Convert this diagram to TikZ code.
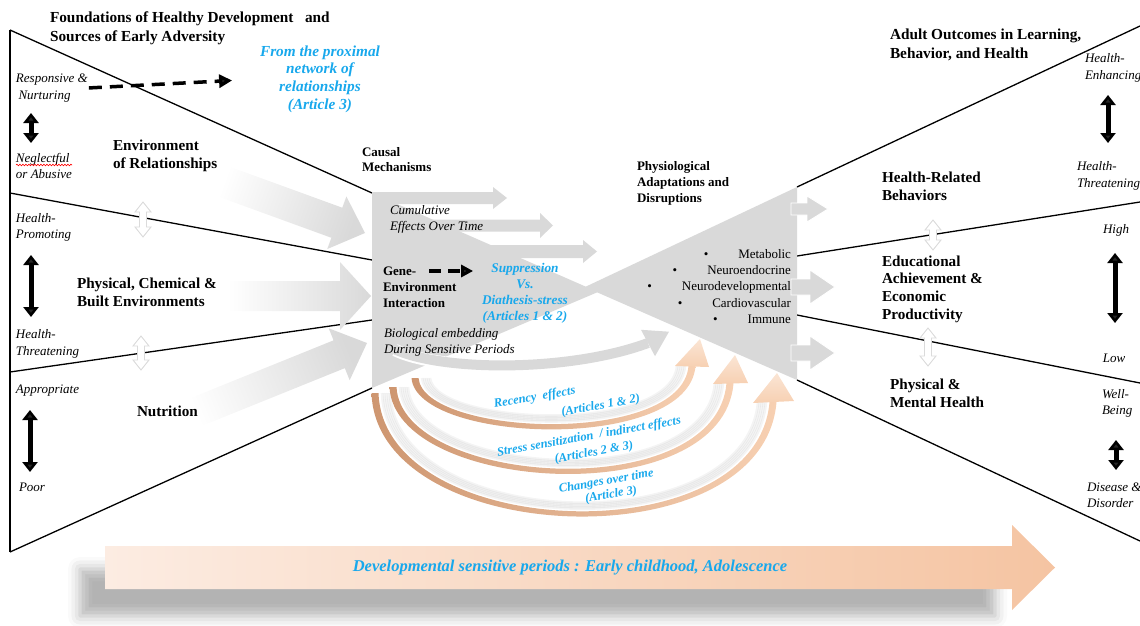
\documentclass[tikz,border=0pt]{standalone}
\usepackage{fontspec}
\setmainfont{Liberation Serif}
\usetikzlibrary{arrows.meta,shadows.blur,decorations.pathmorphing}
\definecolor{cyanx}{RGB}{24,168,236}
\definecolor{boxgray}{RGB}{217,217,217}
\definecolor{peachL}{RGB}{252,236,226}
\definecolor{peachR}{RGB}{245,196,162}
\definecolor{tanD}{RGB}{206,150,112}
\definecolor{tanL}{RGB}{247,208,178}

% orange ribbon along a cubic curve: start, control 1, control 2, end
\newcommand\orarc[8]{%
  \foreach \dd in {7,9,11,13,15}{%
    \draw[line width=2.6pt, draw=black, opacity=0.045]
      (#1+\dd,#2) .. controls (#3+\dd,#4-\dd) and (#5-\dd,#6-\dd) .. (#7-\dd,#8);
  }%
  \shade[left color=tanD, right color=tanL]
    (#1-3.5,#2) .. controls (#3-3.5,#4+3.5) and (#5+3.5,#6+3.5) .. (#7+3.5,#8)
    -- (#7-3.5,#8) .. controls (#5-3.5,#6-3.5) and (#3+3.5,#4-3.5) .. (#1+3.5,#2) -- cycle;
}

\begin{document}
\begin{tikzpicture}[x=1pt,y=-1pt,
  every node/.style={inner sep=0pt, outer sep=0pt},
  headb/.style={font=\fontsize{15.3}{19}\selectfont\bfseries, align=left, anchor=west},
  lblb/.style={font=\fontsize{15.2}{18}\selectfont\bfseries, align=left, anchor=west},
  side/.style={font=\fontsize{13}{16.3}\selectfont\itshape, align=left, anchor=west},
  midb/.style={font=\fontsize{13}{15.8}\selectfont\bfseries, align=left, anchor=west},
  midi/.style={font=\fontsize{13}{16}\selectfont\itshape, align=left, anchor=west},
  bluebig/.style={text=cyanx, font=\fontsize{15.3}{17.7}\selectfont\bfseries\itshape, align=center},
  bluemid/.style={text=cyanx, font=\fontsize{13.3}{16}\selectfont\bfseries\itshape, align=center},
  arctext/.style={text=cyanx, rotate=10},
  funnel/.style={line width=1.3pt, black},
  dblarr/.style={line width=5pt, {Triangle[length=10pt,width=15pt]}-{Triangle[length=10pt,width=15pt]}},
  dasharr/.style={line width=3.5pt, dash pattern=on 13pt off 8pt, -{Triangle[length=13pt,width=13pt]}},
  dasharrsm/.style={line width=3.2pt, dash pattern=on 12pt off 7pt, -{Triangle[length=12pt,width=12pt]}},
  hollowarr/.pic={\draw[draw=gray!28, fill=white, line width=0.9pt]
      (0,-#1) -- (8,-#1+10) -- (3.5,-#1+10) -- (3.5,#1-10) -- (8,#1-10) -- (0,#1)
      -- (-8,#1-10) -- (-3.5,#1-10) -- (-3.5,-#1+10) -- (-8,-#1+10) -- cycle;},
]
\useasboundingbox (0,0) rectangle (1140,626);
\clip (0,0) rectangle (1140,626);

% ---------- sensitive-period arrow along the bottom ----------
\path[blur shadow={shadow xshift=0pt, shadow yshift=0pt, shadow blur radius=12pt, shadow opacity=30}]
  (80,569) rectangle (995,616);
\shade[left color=peachL, right color=peachR]
  (105,546) -- (1012,546) -- (1012,525) -- (1055,567.5) -- (1012,610) -- (1012,589) -- (105,589) -- cycle;
\node[text=cyanx, font=\fontsize{16.5}{18}\selectfont\bfseries\itshape] (devper) at (570,567.5)
  {Developmental sensitive periods : Early childhood, Adolescence};

% ---------- key corners ----------
\coordinate (c-tl) at (372,193);
\coordinate (c-bl) at (372,388);
\coordinate (c-apex) at (598,292);
\coordinate (c-l1) at (372,260);
\coordinate (c-l2) at (372,320);
\coordinate (p-tr) at (797,187);
\coordinate (p-br) at (797,380);
\coordinate (p-apex) at (585,287);
\coordinate (p-r1) at (797,256);
\coordinate (p-r2) at (797,315);
\coordinate (lf-t) at (10,30);
\coordinate (lf-b) at (10,552);
\coordinate (lf-1) at (10,193);
\coordinate (lf-2) at (10,372);
\coordinate (rf-t) at (1140,26);
\coordinate (rf-1) at (1140,202);
\coordinate (rf-2) at (1140,383);
\coordinate (rf-b) at (1140,541);

% ---------- funnel outlines ----------
\draw[funnel] (lf-t) -- (lf-b);
\draw[funnel] (lf-t) -- (c-tl);
\draw[funnel] (lf-b) -- (c-bl);
\draw[funnel] (lf-1) -- (c-l1);
\draw[funnel] (lf-2) -- (c-l2);
\draw[funnel] (p-tr) -- (rf-t);
\draw[funnel] (p-r1) -- (rf-1);
\draw[funnel] (p-r2) -- (rf-2);
\draw[funnel] (p-br) -- (rf-b);

% ---------- faded input arrows ----------
\begin{scope}[shift={(365,233)}, rotate=-20]
  \shade[left color=white, right color=boxgray, shading angle=70]
    (0,0) -- (-30,-28) -- (-30,-16) -- (-160,-16) -- (-160,16) -- (-30,16) -- (-30,28) -- cycle;
\end{scope}
\shade[left color=white, right color=boxgray]
  (371,296) -- (340,262) -- (340,281) -- (228,281) -- (228,311) -- (340,311) -- (340,330) -- cycle;
\begin{scope}[shift={(367,343)}, rotate=22]
  \shade[left color=white, right color=boxgray, shading angle=112]
    (0,0) -- (-30,-28) -- (-30,-15) -- (-200,-15) -- (-200,15) -- (-30,15) -- (-30,28) -- cycle;
\end{scope}

% ---------- orange timing arcs ----------
\orarc{375}{393}{380}{545}{760}{560}{773}{402}
\orarc{393}{387}{398}{490}{720}{510}{730}{383}
\orarc{415}{378}{420}{440}{685}{450}{692}{366}
\shade[top color=tanL!55!white, bottom color=tanL] (675,366) -- (700,339) -- (709,367) -- cycle;
\shade[top color=tanL!55!white, bottom color=tanL] (713,384) -- (735,355) -- (748,383) -- cycle;
\shade[top color=tanL!55!white, bottom color=tanL] (753,403) -- (777,373) -- (794,401) -- cycle;

% ---------- causal mechanisms block ----------
\fill[boxgray] (c-tl) -- (c-apex) -- (c-bl) -- cycle;
\fill[boxgray] (372,192) -- (493,192) -- (493,187) -- (507,198) -- (493,209) -- (493,204) -- (372,204) -- cycle;
\fill[boxgray] (420,219.5) -- (540,219.5) -- (540,213) -- (553,225.5) -- (540,238) -- (540,231.5) -- (420,231.5) -- cycle;
\fill[boxgray] (450,245) -- (583,245) -- (583,240) -- (597,251.5) -- (583,263) -- (583,258) -- (450,258) -- cycle;
% curved embedding arrow
\draw[white, line width=12.5pt] (395,350) .. controls (440,372) and (570,372) .. (648,343);
\draw[boxgray, line width=10pt] (392,348) .. controls (440,372) and (570,372) .. (648,343);
\fill[boxgray] (641,329.8) -- (669,331.7) -- (655,356.2) -- cycle;

% ---------- physiological block ----------
\fill[boxgray] (p-tr) -- (p-apex) -- (p-br) -- cycle;
\filldraw[fill=boxgray, draw=white, line width=0.9pt]
  (791,203) -- (807,203) -- (807,196) -- (828,209) -- (807,222) -- (807,215) -- (791,215) -- cycle;
\filldraw[fill=boxgray, draw=white, line width=0.9pt]
  (791,279) -- (810,279) -- (810,270) -- (835,287) -- (810,304) -- (810,295) -- (791,295) -- cycle;
\filldraw[fill=boxgray, draw=white, line width=0.9pt]
  (791,345) -- (810,345) -- (810,336) -- (835,353) -- (810,370) -- (810,361) -- (791,361) -- cycle;

% ---------- light two-way arrows between domains ----------
\pic at (143,219.5) {hollowarr=17.5};
\pic at (141,353) {hollowarr=17};
\pic at (933,235) {hollowarr=15};
\pic at (928,347) {hollowarr=19};

% ---------- left column ----------
\node[headb] (title) at (50,28.5) {Foundations of Healthy Development \ \ and\\Sources of Early Adversity};
\node[side] (resp) at (16,88) {Responsive \&\\\hspace*{2.5pt}Nurturing};
\node[side] (negl) at (16,166) {Neglectful\\or Abusive};
\draw[red, line width=0.6pt, decorate, decoration={snake, amplitude=0.8pt, segment length=3pt}]
  (negl.west |- 0,165) -- (72,165);
\node[side] (hprom) at (16,227.5) {Health-\\Promoting};
\node[side] (hthr) at (16,344) {Health-\\Threatening};
\node[side] (appr) at (16,391) {Appropriate};
\node[side] (poor) at (19,487) {Poor};
\draw[dblarr] (31,113) -- (31,143);
\draw[dblarr] (31,255) -- (31,317);
\draw[dblarr] (30,410) -- (30,472);

\node[lblb] (envrel) at (113,156) {Environment\\of Relationships};
\node[lblb] (physenv) at (77,292) {Physical, Chemical \&\\Built Environments};
\node[lblb] (nutr) at (137,411) {Nutrition};

\node[bluebig] (fromprox) at (320,79) {From the proximal\\network of\\relationships\\(Article 3)};
\draw[dasharr, shorten >=28pt, shorten <=1pt] (resp.east) -- (fromprox.west);

% ---------- causal mechanisms text ----------
\node[midb] (causal) at (362,159.5) {Causal\\Mechanisms};
\node[midi] (cumul) at (390,219) {Cumulative\\Effects Over Time};
\node[midb] (gene) at (383,287) {Gene-\\Environment\\Interaction};
\node[bluemid] (supp) at (525,293) {Suppression\\Vs.\\Diathesis-stress\\(Articles 1 \& 2)};
\coordinate (gda) at (429,271);
\draw[dasharrsm, shorten >=9pt] (gda) -- (gda -| supp.west);
\node[midi] (bio) at (384,342) {Biological embedding\\During Sensitive Periods};

% ---------- physiological text ----------
\node[midb] (physhead) at (637,183.5) {Physiological\\Adaptations and\\Disruptions};
\node[anchor=east, align=right, font=\fontsize{13}{16.3}\selectfont] (physlist) at (791,286.5)
  {\textbullet\hspace{30pt}Metabolic\\
   \textbullet\hspace{30pt}Neuroendocrine\\
   \textbullet\hspace{30pt}Neurodevelopmental\\
   \textbullet\hspace{30pt}Cardiovascular\\
   \textbullet\hspace{30pt}Immune};

% ---------- arc labels ----------
\node[arctext, align=left, font=\fontsize{12.5}{19.5}\selectfont\bfseries\itshape] (recency) at (567,402)
  {Recency\ \ effects\\\hspace*{65pt}(Articles 1 \& 2)};
\node[arctext, align=center, font=\fontsize{12.5}{16.6}\selectfont\bfseries\itshape] (stress) at (590.5,445)
  {Stress sensitization\ \ / indirect effects\\\hspace*{4pt}(Articles 2 \& 3)};
\node[arctext, align=center, font=\fontsize{12.5}{14}\selectfont\bfseries\itshape] (changes) at (607.5,488.5)
  {Changes over time\\\hspace*{5pt}(Article 3)};

% ---------- right column ----------
\node[headb] (adult) at (890,45) {Adult Outcomes in Learning,\\Behavior, and Health};
\node[lblb] (hrb) at (882,186) {Health-Related\\Behaviors};
\node[lblb, font=\fontsize{15.2}{17.7}\selectfont\bfseries] (edu) at (882,289) {Educational\\Achievement \&\\Economic\\Productivity};
\node[lblb] (pmh) at (890,393) {Physical \&\\Mental Health};

\node[side] (henh) at (1085,68) {Health-\\Enhancing};
\node[side] (hthr2) at (1077,176) {Health-\\Threatening};
\node[side, anchor=center] (high) at (1116,230) {High};
\node[side, anchor=center] (low) at (1114,358) {Low};
\node[side] (well) at (1102,403.5) {Well-\\Being};
\node[side] (dis) at (1087,495) {Disease \&\\Disorder};
\draw[dblarr] (1108,95) -- (1108,143);
\draw[dblarr] (1115,253) -- (1115,323);
\draw[dblarr] (1116,440) -- (1116,470);
\end{tikzpicture}
\end{document}
